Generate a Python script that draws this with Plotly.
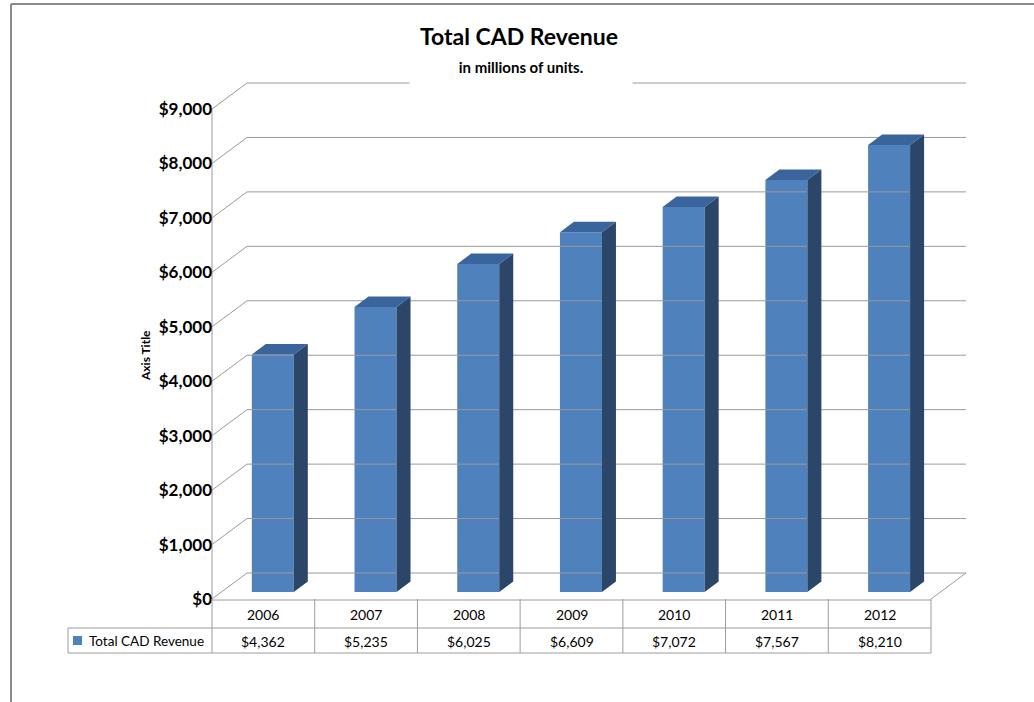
import plotly.graph_objects as go

# ---------------- data ----------------
years = ["2006", "2007", "2008", "2009", "2010", "2011", "2012"]
revenue = [4362, 5235, 6025, 6609, 7072, 7567, 8210]
tick_values = [0, 1000, 2000, 3000, 4000, 5000, 6000, 7000, 8000, 9000]
series_name = "Total CAD Revenue"
chart_title = "Total CAD Revenue"
chart_subtitle = "in millions of units."
axis_title = "Axis Title"

# ---------------- geometry (layout only) ----------------
W, H = 1034, 702
X0_PX, X1_PX = 212, 931       # front floor edge (pixels)
Y0_PX, YTOP_PX = 599, 109     # front $0 and front $9,000 (pixels)
YMAX = 9000
n = len(years)
ppx = (X1_PX - X0_PX) / n
ppy = (Y0_PX - YTOP_PX) / YMAX


def xd(px):
    return -0.5 + (px - X0_PX) / ppx


def yd(py):
    return (Y0_PX - py) / ppy


wall_dx = 35 / ppx            # oblique depth of the back wall
wall_dy = 26 / ppy
bar_front = 0.27              # bar front face depth fraction
bar_depth = 0.40              # bar thickness as fraction of depth
bar_w = 42 / ppx
fdx, fdy = bar_front * wall_dx, bar_front * wall_dy
ddx, ddy = bar_depth * wall_dx, bar_depth * wall_dy

FONT = "Lato"
GRID = "#9a9a9a"
FRONT = "#4F81BD"
SIDE = "#2B4669"
TOP = "#3A649C"

fig = go.Figure()

# ---- walls / gridlines ----
gx, gy = [], []
for v in tick_values:
    gx += [-0.5 + wall_dx, n - 0.5 + wall_dx, None, -0.5, -0.5 + wall_dx, None]
    gy += [v + wall_dy, v + wall_dy, None, v, v + wall_dy, None]
gx += [n - 0.5, n - 0.5 + wall_dx, None, -0.5, -0.5, None]
gy += [0, wall_dy, None, 0, YMAX, None]
fig.add_trace(go.Scatter(x=gx, y=gy, mode="lines", line=dict(color=GRID, width=1),
                         hoverinfo="skip", showlegend=False))

# ---- bars: front faces ----
fig.add_trace(go.Bar(x=[i + fdx for i in range(n)], y=revenue, base=fdy, width=bar_w,
                     marker=dict(color=FRONT, line=dict(width=0)), name=series_name,
                     showlegend=False))

# ---- bars: side and top faces ----
sx, sy, tx, ty = [], [], [], []
for i, v in enumerate(revenue):
    xl = i + fdx - bar_w / 2
    xr = i + fdx + bar_w / 2
    sx += [xr, xr + ddx, xr + ddx, xr, xr, None]
    sy += [fdy, fdy + ddy, fdy + ddy + v, fdy + v, fdy, None]
    tx += [xl, xr, xr + ddx, xl + ddx, xl, None]
    ty += [fdy + v, fdy + v, fdy + v + ddy, fdy + v + ddy, fdy + v, None]
fig.add_trace(go.Scatter(x=sx, y=sy, mode="lines", fill="toself", fillcolor=SIDE,
                         line=dict(width=0, color=SIDE), hoverinfo="skip", showlegend=False))
fig.add_trace(go.Scatter(x=tx, y=ty, mode="lines", fill="toself", fillcolor=TOP,
                         line=dict(width=0, color=TOP), hoverinfo="skip", showlegend=False))

# ---- data table ----
shapes = []
TCOL = "#9c9c9c"
row_top, row_mid, row_bot = yd(600), yd(628), yd(653)
leg_left = xd(68)
shapes.append(dict(type="line", xref="x", yref="y", x0=-0.5, x1=n - 0.5, y0=row_top, y1=row_top,
                   line=dict(color=TCOL, width=1)))
for yy in (row_mid, row_bot):
    shapes.append(dict(type="line", xref="x", yref="y", x0=leg_left, x1=n - 0.5, y0=yy, y1=yy,
                       line=dict(color=TCOL, width=1)))
for k in range(n + 1):
    shapes.append(dict(type="line", xref="x", yref="y", x0=k - 0.5, x1=k - 0.5,
                       y0=0, y1=row_bot, line=dict(color=TCOL, width=1)))
shapes.append(dict(type="line", xref="x", yref="y", x0=leg_left, x1=leg_left, y0=row_mid, y1=row_bot,
                   line=dict(color=TCOL, width=1)))
# legend key
shapes.append(dict(type="rect", xref="x", yref="y", x0=xd(73), x1=xd(82), y0=yd(645), y1=yd(636),
                   fillcolor=FRONT, line=dict(width=0)))
# outer chart border
shapes.append(dict(type="line", xref="paper", yref="paper", x0=11 / W, x1=11 / W, y0=0, y1=1 - 4 / H,
                   line=dict(color="#8a8a8a", width=2)))
shapes.append(dict(type="line", xref="paper", yref="paper", x0=11 / W, x1=1, y0=1 - 4 / H, y1=1 - 4 / H,
                   line=dict(color="#8a8a8a", width=2)))

annotations = []
for i, (yr, v) in enumerate(zip(years, revenue)):
    annotations.append(dict(x=i, y=yd(614), xref="x", yref="y", text=yr, showarrow=False,
                            xanchor="center", yanchor="middle",
                            font=dict(family=FONT, size=14, color="#000")))
    annotations.append(dict(x=i, y=yd(641), xref="x", yref="y", text=f"${v:,}", showarrow=False,
                            xanchor="center", yanchor="middle",
                            font=dict(family=FONT, size=14, color="#000")))
annotations.append(dict(x=xd(87), y=yd(641), xref="x", yref="y", text=series_name, showarrow=False,
                        xanchor="left", yanchor="middle", font=dict(family=FONT, size=13.5, color="#000")))
# titles
annotations.append(dict(x=519 / W, y=1 - 36 / H, xref="paper", yref="paper", text=f"<b>{chart_title}</b>",
                        showarrow=False, xanchor="center", yanchor="middle",
                        font=dict(family=FONT, size=23, color="#000")))
annotations.append(dict(x=521 / W, y=1 - 67 / H, xref="paper", yref="paper", text=f"<b>{chart_subtitle}</b>",
                        showarrow=False, bgcolor="white", width=220, height=34,
                        xanchor="center", yanchor="middle",
                        font=dict(family=FONT, size=15, color="#000")))
annotations.append(dict(x=145 / W, y=1 - 356 / H, xref="paper", yref="paper", text=f"<b>{axis_title}</b>",
                        showarrow=False, textangle=-90, xanchor="center", yanchor="middle",
                        font=dict(family=FONT, size=12, color="#000")))

fig.update_layout(
    width=W, height=H, margin=dict(l=0, r=0, t=0, b=0),
    paper_bgcolor="white", plot_bgcolor="white",
    showlegend=False, shapes=shapes, annotations=annotations,
    xaxis=dict(range=[xd(0), xd(W)], visible=False, fixedrange=True),
    yaxis=dict(range=[yd(H), yd(0)], showgrid=False, zeroline=False, showline=False,
               anchor="free", position=X0_PX / W, tickmode="array", tickvals=tick_values,
               ticktext=[f"${v:,}" for v in tick_values], ticks="",
               tickfont=dict(family=FONT, size=17, color="#000", weight="bold"), fixedrange=True),
)

fig.write_html("out.html")
